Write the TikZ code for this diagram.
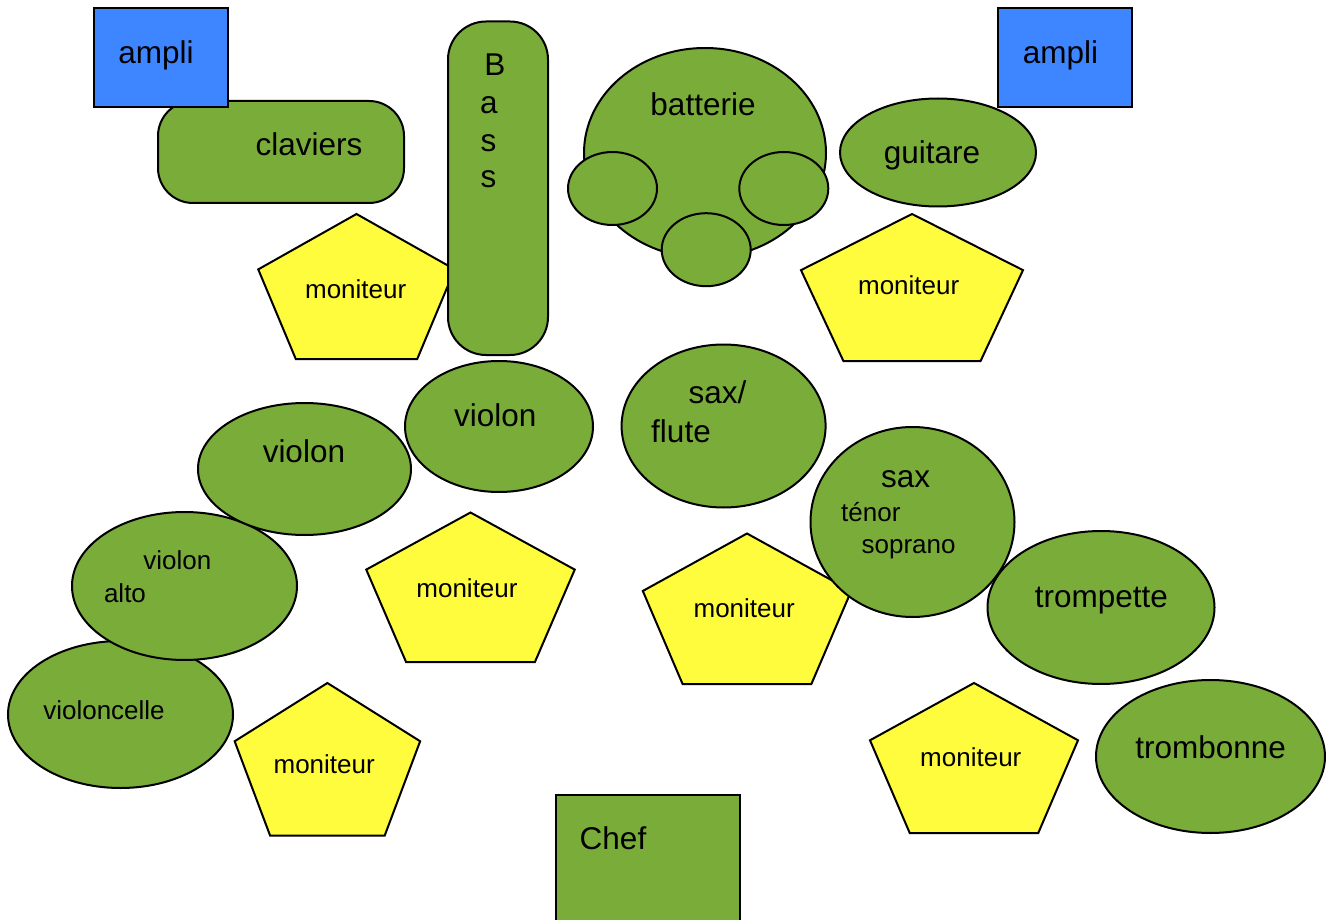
\documentclass[tikz,border=0pt]{standalone}
\usepackage{fontspec}
\setmainfont{Liberation Sans}
\usetikzlibrary{shapes.geometric}
\definecolor{grn}{RGB}{122,172,58}
\definecolor{blu}{RGB}{62,134,255}
\definecolor{ylw}{RGB}{255,251,61}
\tikzset{
  outl/.style={draw=black, line width=2pt, inner sep=0pt, outer sep=0pt},
  gbox/.style={outl, fill=grn, rectangle},
  gell/.style={outl, fill=grn, ellipse},
  abox/.style={outl, fill=blu, rectangle},
  monbox/.style={draw=black, line width=2pt, fill=ylw, line join=miter},
  big/.style={anchor=base, inner sep=0pt, yshift=-1.5pt, font=\fontsize{31.5}{37}\selectfont},
  small/.style={anchor=base, inner sep=0pt, yshift=-1.2pt, font=\fontsize{26}{31}\selectfont}
}
% #1 name, #2 apex x, #3 apex y, #4 width, #5 height
\newcommand\monitorpent[5]{%
  \pgfmathsetmacro\prx{#4/1.902113}%
  \pgfmathsetmacro\pry{#5/1.809017}%
  \pgfmathsetmacro\pcy{#3+\pry}%
  \coordinate (#1) at (#2,\pcy);
  \draw[monbox] (#2,#3) -- (#2+0.951057*\prx,\pcy-0.309017*\pry)
    -- (#2+0.587785*\prx,\pcy+0.809017*\pry)
    -- (#2-0.587785*\prx,\pcy+0.809017*\pry)
    -- (#2-0.951057*\prx,\pcy-0.309017*\pry) -- cycle;
}
\begin{document}
\begin{tikzpicture}[x=1pt,y=-1pt]
\useasboundingbox (0,0) rectangle (1326,920);
\clip (0,0) rectangle (1326,920);
\fill[white] (0,0) rectangle (1326,920);

% keyboards and left amp
\node[gbox, rounded corners=35pt, minimum width=246pt, minimum height=102pt] (claviers) at (281,152) {};
\node[abox, minimum width=134.5pt, minimum height=99.5pt] (ampliL) at (160.75,57.75) {};

% top-left monitor, then bass
\monitorpent{monTL}{356.5}{214}{196.5}{145}
\node[gbox, rounded corners=38pt, minimum width=100pt, minimum height=333.5pt] (bass) at (498,188.25) {};

% drums
\node[gell, minimum width=242pt, minimum height=210pt] (batterie) at (705,153) {};
\node[gell, minimum width=89pt, minimum height=73pt] (drumL) at (612.5,188.5) {};
\node[gell, minimum width=89pt, minimum height=73pt] (drumR) at (783.8,188.5) {};
\node[gell, minimum width=89pt, minimum height=73pt] (drumB) at (706.2,249.7) {};

% guitar and right amp
\node[gell, minimum width=196pt, minimum height=108pt] (guitare) at (938,152.5) {};
\node[abox, minimum width=134pt, minimum height=99.5pt] (ampliR) at (1065,57.75) {};
\monitorpent{monTR}{912}{214}{222}{147}

% strings
\node[gell, minimum width=225pt, minimum height=147pt] (violoncelle) at (120.5,714.5) {};
\node[gell, minimum width=225pt, minimum height=148pt] (alto) at (184.5,586) {};
\node[gell, minimum width=213pt, minimum height=132pt] (violonL) at (304.5,469) {};
\node[gell, minimum width=188pt, minimum height=131pt] (violonR) at (499,426.5) {};
\monitorpent{monML}{470.5}{512.5}{208.5}{149.5}
\monitorpent{monBL}{327.4}{683}{185.5}{152.5}

% winds and brass
\node[gell, minimum width=204pt, minimum height=163pt] (saxflute) at (723.6,426) {};
\monitorpent{monMR}{747}{533.5}{208.4}{150.5}
\node[gell, minimum width=204pt, minimum height=190pt] (saxtenor) at (912.5,522) {};
\node[gell, minimum width=227pt, minimum height=153pt] (trompette) at (1101,607.5) {};
\node[gell, minimum width=229pt, minimum height=153pt] (trombonne) at (1210.5,756.5) {};
\monitorpent{monBR}{974}{683}{208}{150}

% conductor
\node[gbox, minimum width=184.5pt, minimum height=165pt] (chef) at (647.75,877) {};

% texts
\node[big] (tAmpliL) at (156,62) {ampli};
\node[big] (tAmpliR) at (1060.5,62) {ampli};
\node[big] (tClaviers) at (309,154.3) {claviers};
\node[big] (tB) at (495,74) {B};
\node[big] (tA) at (489,111.7) {a};
\node[big] (tS1) at (488.5,149.6) {s};
\node[big] (tS2) at (488.5,186.5) {s};
\node[big] (tBatterie) at (703,114.3) {batterie};
\node[big] (tGuitare) at (932,162.3) {guitare};
\node[small] (tMonTL) at (355.7,297) {moniteur};
\node[small] (tMonTR) at (908.7,293.5) {moniteur};
\node[small] (tMonML) at (467,596) {moniteur};
\node[small] (tMonBL) at (324.2,771.8) {moniteur};
\node[small] (tMonMR) at (744.2,616.7) {moniteur};
\node[small] (tMonBR) at (970.8,765.5) {moniteur};
\node[big] (tViolonR) at (495.3,424.5) {violon};
\node[big] (tViolonL) at (303.9,461) {violon};
\node[small] (tAltoV) at (177.3,568.2) {violon};
\node[small] (tAlto) at (125,601) {alto};
\node[small] (tCello) at (104,718) {violoncelle};
\node[big] (tSaxSl) at (717.6,402) {sax/};
\node[big] (tFlute) at (681,440.6) {flute};
\node[big] (tSax) at (905.6,486) {sax};
\node[small] (tTenor) at (870.8,520.5) {ténor};
\node[small] (tSoprano) at (908.6,552.7) {soprano};
\node[big] (tTrompette) at (1101.4,605.6) {trompette};
\node[big] (tTrombonne) at (1210.6,757.3) {trombonne};
\node[big] (tChef) at (613,848) {Chef};
\end{tikzpicture}
\end{document}
